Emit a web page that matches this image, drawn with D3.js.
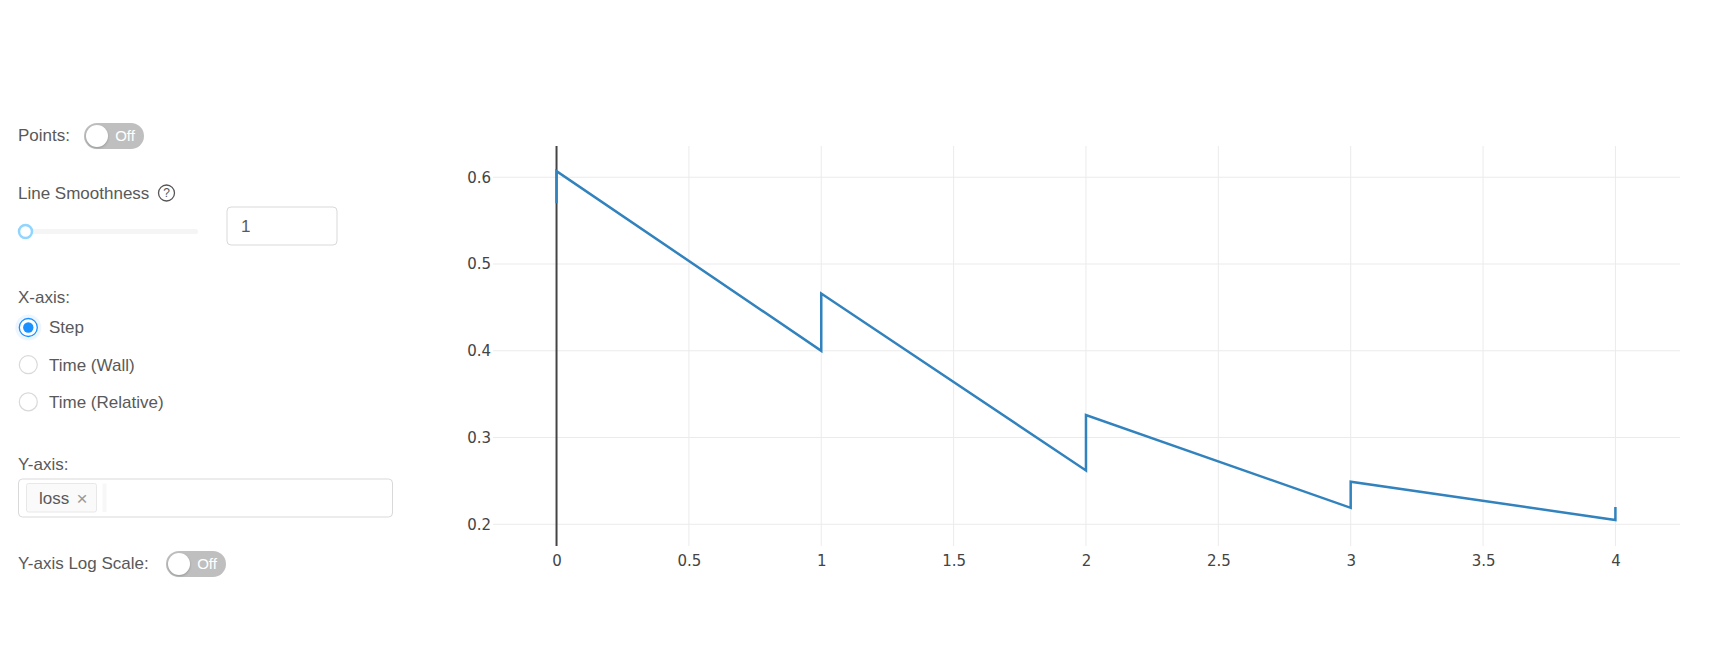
<!DOCTYPE html>
<head>
	<meta charset="utf-8">
	<title>loss</title>
	<style>
	body { margin: 0; background: #fff; }
	.ui { font: 17px "Liberation Sans", Arial, sans-serif; fill: #595959; }
	.tick text { font: 15px "DejaVu Sans", Verdana, sans-serif; fill: #444; }
	.grid line { stroke: #ebebeb; stroke-width: 1; }
	</style>
</head>
<body>
<script src="https://d3js.org/d3.v7.min.js"></script>
<script>

var width = 1715, height = 651

// data: logged step and loss, two values per step
var steps = [0, 0, 1, 1, 2, 2, 3, 3, 4, 4];
var loss = [0.570, 0.607, 0.400, 0.466, 0.262, 0.326, 0.219, 0.249, 0.205, 0.220];
var xTicks = [0, 0.5, 1, 1.5, 2, 2.5, 3, 3.5, 4];
var yTicks = [0.2, 0.3, 0.4, 0.5, 0.6];
var xRange = [-0.24, 4.244];
var yRange = [0.175, 0.636];
var radioLabels = ["Step", "Time (Wall)", "Time (Relative)"];

var svg = d3.select("body")
	.append("svg")
	.attr("width", width)
	.attr("height", height);

// ---- left controls ----
var ui = svg.append("g").attr("class", "ui");

function label(txt, x, y) {
	return ui.append("text").attr("x", x).attr("y", y).attr("dy", "0.35em").text(txt);
}

function toggle(x, y) {
	var g = ui.append("g").attr("transform", "translate(" + x + "," + y + ")");
	g.append("rect").attr("width", 60).attr("height", 26).attr("rx", 13).attr("fill", "#bfbfbf");
	g.append("circle").attr("cx", 13).attr("cy", 13).attr("r", 11).attr("fill", "#fff")
		.style("filter", "drop-shadow(0 1px 1px rgba(0,35,11,0.25))");
	g.append("text").attr("x", 41).attr("y", 13).attr("dy", "0.35em").attr("text-anchor", "middle")
		.style("font-size", "15px").attr("fill", "#fff").text("Off");
}

label("Points:", 18, 135);
toggle(84, 123);

label("Line Smoothness", 18, 193);
ui.append("circle").attr("cx", 166.5).attr("cy", 193).attr("r", 8).attr("fill", "none")
	.attr("stroke", "#555").attr("stroke-width", 1.3);
ui.append("text").attr("x", 166.5).attr("y", 193).attr("dy", "0.35em").attr("text-anchor", "middle")
	.style("font-size", "12px").attr("fill", "#555").text("?");

ui.append("rect").attr("x", 18).attr("y", 229).attr("width", 180).attr("height", 5).attr("rx", 2.5)
	.attr("fill", "#f5f5f5");
ui.append("circle").attr("cx", 25.5).attr("cy", 231.5).attr("r", 6.5).attr("fill", "#fff")
	.attr("stroke", "#91d5ff").attr("stroke-width", 2.5);

ui.append("rect").attr("x", 227).attr("y", 207).attr("width", 110).attr("height", 38).attr("rx", 4)
	.attr("fill", "#fff").attr("stroke", "#d9d9d9");
label("1", 241, 226).attr("fill", "#595959");

label("X-axis:", 18, 297);
radioLabels.forEach(function(t, i) {
	var cy = 327.5 + i * 37.2;
	if (i == 0) {
		ui.append("circle").attr("cx", 28.3).attr("cy", cy).attr("r", 11).attr("fill", "none")
			.attr("stroke", "rgba(24,144,255,0.08)").attr("stroke-width", 4);
		ui.append("circle").attr("cx", 28.3).attr("cy", cy).attr("r", 9).attr("fill", "#fff")
			.attr("stroke", "#1890ff").attr("stroke-width", 1.3);
		ui.append("circle").attr("cx", 28.3).attr("cy", cy).attr("r", 5.2).attr("fill", "#1890ff");
	} else {
		ui.append("circle").attr("cx", 28.3).attr("cy", cy).attr("r", 9).attr("fill", "#fff")
			.attr("stroke", "#d9d9d9").attr("stroke-width", 1.2);
	}
	label(t, 49, cy);
});

label("Y-axis:", 18, 464.5);
ui.append("rect").attr("x", 18.5).attr("y", 479).attr("width", 374).attr("height", 38).attr("rx", 4)
	.attr("fill", "#fff").attr("stroke", "#d9d9d9");
ui.append("rect").attr("x", 26.5).attr("y", 483.5).attr("width", 70).attr("height", 28.5).attr("rx", 2)
	.attr("fill", "#fafafa").attr("stroke", "#e8e8e8");
label("loss", 39, 498.5).attr("fill", "#595959");
ui.append("text").attr("x", 82).attr("y", 498.5).attr("dy", "0.35em").attr("text-anchor", "middle")
	.style("font-size", "19px").attr("fill", "#999").text("\u00d7");
ui.append("rect").attr("x", 102.5).attr("y", 483.5).attr("width", 4).attr("height", 28.5)
	.attr("fill", "#f7f7f7");

label("Y-axis Log Scale:", 18, 563.5);
toggle(166, 551);

// ---- chart ----
var x = d3.scaleLinear().domain(xRange).range([493, 1680]);
var y = d3.scaleLinear().domain(yRange).range([546, 146]);

var grid = svg.append("g").attr("class", "grid");
grid.selectAll(".gx").data(xTicks.filter(function(d) { return d != 0; }))
	.enter().append("line")
	.attr("x1", function(d) { return x(d); }).attr("x2", function(d) { return x(d); })
	.attr("y1", 146).attr("y2", 546);
grid.selectAll(".gy").data(yTicks)
	.enter().append("line")
	.attr("x1", 493).attr("x2", 1680)
	.attr("y1", function(d) { return y(d); }).attr("y2", function(d) { return y(d); });

var xAxis = d3.axisBottom(x).tickValues(xTicks).tickSize(0).tickPadding(9)
	.tickFormat(function(d) { return d3.format("")(d); });
svg.append("g").attr("transform", "translate(0,546)").call(xAxis)
	.call(function(g) { g.select(".domain").remove(); });

var yAxis = d3.axisLeft(y).tickValues(yTicks).tickSize(0).tickPadding(2)
	.tickFormat(d3.format(".1f"));
svg.append("g").attr("transform", "translate(493,0)").call(yAxis)
	.call(function(g) { g.select(".domain").remove(); });

// x zero line
svg.append("line")
	.attr("x1", x(0)).attr("x2", x(0)).attr("y1", 146).attr("y2", 546)
	.attr("stroke", "#444").attr("stroke-width", 2);

var line = d3.line()
	.x(function(d, i) { return x(steps[i]); })
	.y(function(d) { return y(d); });

svg.append("path")
	.datum(loss)
	.attr("d", line)
	.attr("fill", "none")
	.attr("stroke", "#3182bd")
	.attr("stroke-width", 2.5);

</script>
